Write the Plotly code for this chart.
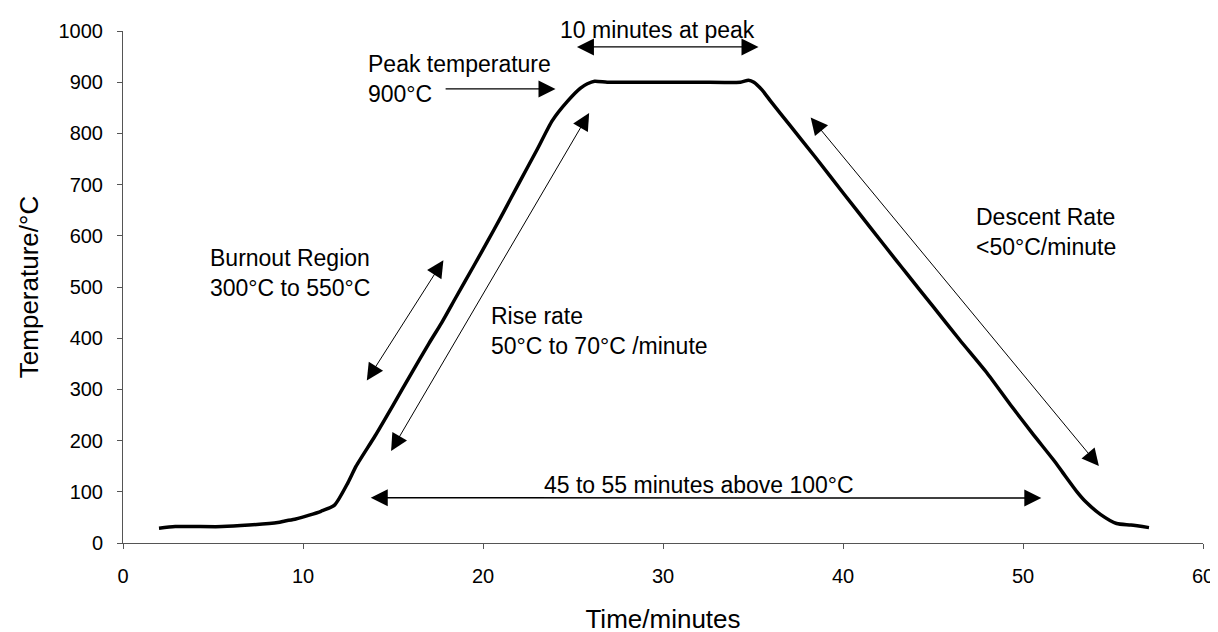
import plotly.graph_objects as go

# ---- data ----
time_min = [2, 2.9, 5.5, 7, 8.6, 9.0, 9.6, 10.3, 11.0, 11.75, 12.5, 12.95, 14, 15, 16, 17, 17.7,
            18.5, 19.5, 20.25, 21, 22, 23, 23.85, 24.7, 25.4, 25.8, 26.2, 26.9, 28, 30, 32,
            34.3, 34.75, 35.05, 35.5, 36, 37, 38.5, 40, 41.5, 43, 43.5, 45, 46.5, 48,
            49.3, 50.5, 51.7, 52.2, 53, 53.5, 54.3, 55.2, 56, 57]
temp_c = [29, 32, 32, 35, 40, 43, 47, 54, 62, 74, 118, 150, 209, 269, 330, 390, 430,
          480, 542, 589, 637, 703, 768, 825, 863, 888, 897, 902, 900, 900, 900, 900,
          900, 904, 900, 885, 862, 818, 752, 684, 617, 550, 528, 462, 396, 332,
          270, 215, 162, 138, 100, 80, 56, 38, 35, 30]

x_ticks = [0, 10, 20, 30, 40, 50, 60]
y_ticks = [0, 100, 200, 300, 400, 500, 600, 700, 800, 900, 1000]

# ---- layout geometry ----
W, H = 1218, 632
ML, MR, MT, MB = 115, 21, 18, 90
X_RANGE = [0, 60]
Y_RANGE = [0, 1000]
PW = W - ML - MR
PH = H - MT - MB


def px_x(px):
    return X_RANGE[0] + (px - ML) / PW * (X_RANGE[1] - X_RANGE[0])


def px_y(py):
    return Y_RANGE[0] + (H - MB - py) / PH * (Y_RANGE[1] - Y_RANGE[0])


def px_dom_y(py):
    return (H - MB - py) / PH


FONT = "Liberation Sans, Arial, sans-serif"
ANN_SIZE = 23

fig = go.Figure()
fig.add_trace(go.Scatter(
    x=time_min, y=temp_c, mode="lines",
    line=dict(color="black", width=3.5, shape="spline", smoothing=0.6),
    hoverinfo="skip", showlegend=False,
))

annotations = []

# label of the peak-duration arrow sits above the plot area -> domain coordinates
annotations.append(dict(
    text="10 minutes at peak", x=px_x(650.3), y=px_dom_y(17), xref="x", yref="y domain",
    xanchor="center", yanchor="middle", showarrow=False,
    font=dict(family=FONT, size=ANN_SIZE, color="black"),
))

texts = [
    ("Peak temperature<br>900°C", 358, 66.7, "left"),
    ("Burnout Region<br>300°C to 550°C", 200.5, 265.5, "left"),
    ("Rise rate<br>50°C to 70°C /minute", 482, 325, "left"),
    ("Descent Rate<br>&lt;50°C/minute", 968, 223.3, "left"),
    ("45 to 55 minutes above 100°C", 692, 483, "center"),
]
for txt, px, py, anchor in texts:
    annotations.append(dict(
        text=txt, x=px_x(px), y=px_y(py), xref="x", yref="y",
        xanchor=anchor, yanchor="middle", align="left", showarrow=False,
        font=dict(family=FONT, size=ANN_SIZE, color="black"),
    ))

# arrows: (head_px, head_py, tail_px, tail_py, double, width)
arrows = [
    (751.7, 34.3, 568.3, 34.3, True, 1.2),
    (548.3, 77.3, 436.7, 77.3, False, 1.2),
    (436.0, 252.7, 358.3, 377.3, True, 1),
    (582.0, 102.0, 382.7, 449.3, True, 1),
    (1092.7, 463.3, 802.7, 105.0, True, 1),
    (1035.0, 496.0, 361.7, 495.7, True, 1.4),
]
for hx, hy, tx, ty, dbl, wd in arrows:
    annotations.append(dict(
        text="", x=px_x(hx), y=px_dom_y(hy), ax=px_x(tx), ay=px_dom_y(ty),
        xref="x", yref="y domain", axref="x", ayref="y domain",
        showarrow=True, arrowhead=2, arrowsize=3.4 / wd, arrowwidth=wd,
        arrowcolor="black", standoff=0, startstandoff=0,
        arrowside="end+start" if dbl else "end",
        startarrowhead=2, startarrowsize=3.4 / wd,
    ))

fig.update_layout(
    width=W, height=H,
    margin=dict(l=ML, r=MR, t=MT, b=MB, pad=0),
    paper_bgcolor="white", plot_bgcolor="white",
    font=dict(family=FONT, color="black"),
    showlegend=False,
    annotations=annotations,
    xaxis=dict(
        range=X_RANGE, tickvals=x_ticks, ticks="outside", ticklen=5,
        tickcolor="#555", showline=True, linecolor="#555", linewidth=1,
        showgrid=False, zeroline=False, tickfont=dict(size=20, family=FONT, color="black"),
        ticklabelstandoff=10,
        title=dict(text="Time/minutes", font=dict(size=26, family=FONT, color="black"), standoff=23),
    ),
    yaxis=dict(
        range=Y_RANGE, tickvals=y_ticks, ticks="outside", ticklen=5,
        tickcolor="#555", showline=True, linecolor="#555", linewidth=1,
        showgrid=False, zeroline=False, tickfont=dict(size=20, family=FONT, color="black"),
        ticklabelstandoff=10,
        title=dict(text="Temperature/°C", font=dict(size=26, family=FONT, color="black"), standoff=12),
    ),
)

fig.write_html("out.html")
